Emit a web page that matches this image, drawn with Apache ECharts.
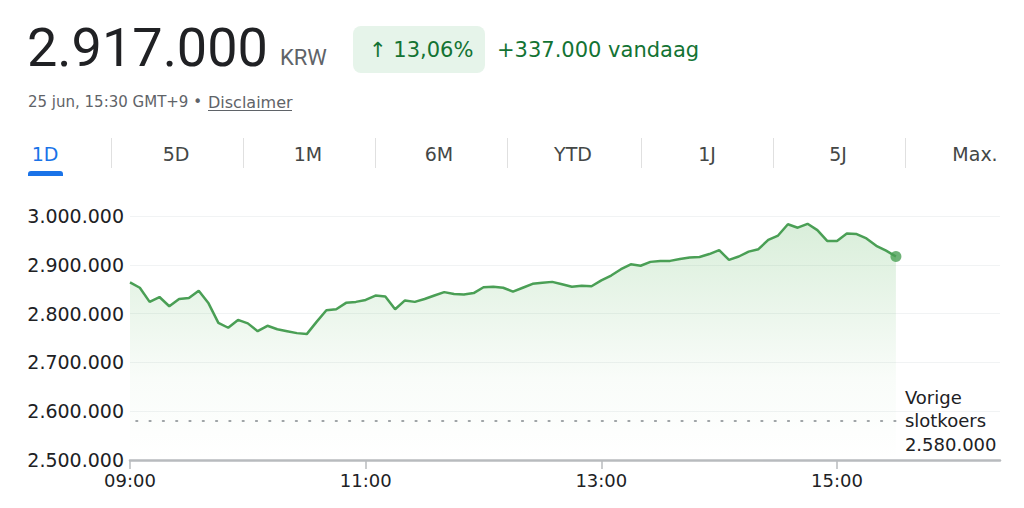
<!DOCTYPE html>
<html>
<head>
<meta charset="utf-8">
<script src="https://cdn.jsdelivr.net/npm/echarts@6/dist/echarts.min.js"></script>
<style>
html,body{margin:0;padding:0;background:#fff;}
#c{width:1024px;height:508px;}
</style>
</head>
<body>
<div id="c"></div>
<script>
var times = ["09:00","09:05","09:10","09:15","09:20","09:25","09:30","09:35","09:40","09:45",
"09:50","09:55","10:00","10:05","10:10","10:15","10:20","10:25","10:30","10:35",
"10:40","10:45","10:50","10:55","11:00","11:05","11:10","11:15","11:20","11:25",
"11:30","11:35","11:40","11:45","11:50","11:55","12:00","12:05","12:10","12:15",
"12:20","12:25","12:30","12:35","12:40","12:45","12:50","12:55","13:00","13:05",
"13:10","13:15","13:20","13:25","13:30","13:35","13:40","13:45","13:50","13:55",
"14:00","14:05","14:10","14:15","14:20","14:25","14:30","14:35","14:40","14:45",
"14:50","14:55","15:00","15:05","15:10","15:15","15:20","15:25","15:30"];
var prices = [2864000,2853000,2824000,2834000,2815000,2830000,2832000,2847000,2821000,2781000,
2771000,2787000,2780000,2764000,2775000,2768000,2764000,2760000,2758000,2783000,
2807000,2809000,2822000,2824000,2828000,2837000,2835000,2809000,2827000,2824000,
2830000,2837000,2844000,2840000,2839000,2842000,2854000,2855000,2853000,2845000,
2853000,2861000,2863000,2865000,2860000,2855000,2857000,2856000,2868000,2878000,
2891000,2901000,2898000,2906000,2908000,2908000,2912000,2915000,2916000,2922000,
2930000,2910000,2917000,2927000,2932000,2951000,2960000,2983000,2976000,2984000,
2971000,2949000,2949000,2964000,2963000,2954000,2939000,2929000,2917000];
var yTicks = [2500000,2600000,2700000,2800000,2900000,3000000];
var xTickLabels = ["09:00","11:00","13:00","15:00"];
var previousClose = 2580000;
var tabs = ["1D","5D","1M","6M","YTD","1J","5J","Max."];

function toMin(t){var p=t.split(":");return (+p[0]-9)*60 + (+p[1]);}
function fmt(v){return String(v).replace(/\B(?=(\d{3})+(?!\d))/g,".");}
function fmtTime(m){var h=9+Math.floor(m/60), mm=m%60;return (h<10?"0":"")+h+":"+(mm<10?"0":"")+mm;}

var seriesData = times.map(function(t,i){return [toMin(t), prices[i]];});
var last = seriesData[seriesData.length-1];

var FONT = "Roboto, sans-serif";
var SANS = "'DejaVu Sans', sans-serif";
var GREEN = '#4a9f55';
var tabX = [45,176,308,439,573,707,838,975];
var sepX = [111,243,375,507,641,773,905];

var graphics = [
  {type:'text', left:27, top:20, style:{text:'2.917.000', font:'400 54px '+FONT, fill:'#202124'}},
  {type:'text', left:280, top:46, style:{text:'KRW', font:'400 22px '+FONT, fill:'#5f6368'}},
  {type:'rect', shape:{x:353,y:26,width:132,height:47,r:8}, style:{fill:'#e6f4ea'}},
  {type:'text', x:369, y:50, style:{text:'\u2191 13,06%', font:'400 21px '+SANS, fill:'#137333', verticalAlign:'middle'}},
  {type:'text', x:497, y:50, style:{text:'+337.000 vandaag', font:'400 21px '+SANS, fill:'#137333', verticalAlign:'middle'}},
  {type:'text', x:28, y:102, style:{text:'25 jun, 15:30 GMT+9 \u2022', font:'400 15px '+SANS, fill:'#5f6368', verticalAlign:'middle'}},
  {type:'text', x:208, y:102, style:{text:'Disclaimer', font:'400 16px '+SANS, fill:'#5f6368', verticalAlign:'middle'}},
  {type:'line', shape:{x1:208,y1:110.5,x2:292,y2:110.5}, style:{stroke:'#5f6368', lineWidth:1}},
  {type:'rect', shape:{x:28,y:171,width:35,height:5,r:[3,3,0,0]}, style:{fill:'#1a73e8'}}
];
tabs.forEach(function(t,i){
  graphics.push({type:'text', x:tabX[i], y:154, style:{text:t, font:'400 19px '+SANS, fill:i===0?'#1a73e8':'#444746', align:'center', verticalAlign:'middle'}});
});
sepX.forEach(function(x){
  graphics.push({type:'line', shape:{x1:x+0.5,y1:138,x2:x+0.5,y2:168}, style:{stroke:'#e0e0e0', lineWidth:1}});
});

var chart = echarts.init(document.getElementById('c'), null, {renderer:'svg'});
chart.setOption({
  animation:false,
  graphic: graphics,
  grid:{left:130, right:24, top:216, bottom:48},
  xAxis:{
    type:'value', min:0, max:443, interval:120,
    axisLine:{show:true, lineStyle:{color:'#b8bbbe', width:2.5}},
    axisTick:{show:true, length:9, lineStyle:{color:'#b8bbbe', width:1.5}},
    splitLine:{show:false},
    axisLabel:{show:true, showMaxLabel:false, margin:11, color:'#202124', fontSize:18, fontFamily:SANS,
      formatter:function(v){var s=fmtTime(v);return xTickLabels.indexOf(s)>=0?s:'';}}
  },
  yAxis:{
    type:'value', min:yTicks[0], max:yTicks[yTicks.length-1], interval:100000,
    axisLine:{show:false}, axisTick:{show:false},
    splitLine:{show:true, lineStyle:{color:'#f1f3f4', width:1}},
    axisLabel:{margin:6, color:'#202124', fontSize:19, fontFamily:SANS, formatter:function(v){return fmt(v);}}
  },
  series:[
    {
      type:'line', data:seriesData, showSymbol:false, symbol:'none',
      lineStyle:{color:GREEN, width:2.5},
      areaStyle:{color:new echarts.graphic.LinearGradient(0,0,0,1,[
        {offset:0,color:'rgba(76,175,80,0.30)'},
        {offset:0.65,color:'rgba(76,175,80,0.05)'},
        {offset:1,color:'rgba(76,175,80,0)'}])},
      markLine:{
        silent:true, symbol:['none','none'],
        lineStyle:{type:[1.6,11.7], dashOffset:-6, color:'#80868b', width:1.6, cap:'round'},
        label:{show:true, position:'end', distance:9, formatter:'Vorige\nslotkoers\n'+fmt(previousClose),
          color:'#202124', fontSize:18, lineHeight:23.5, fontFamily:SANS, align:'left'},
        data:[[{coord:[0,previousClose]},{coord:[last[0],previousClose]}]]
      }
    },
    {
      type:'scatter', data:[last], symbol:'circle', symbolSize:11,
      itemStyle:{color:GREEN}, silent:true
    }
  ]
});
</script>
</body>
</html>
